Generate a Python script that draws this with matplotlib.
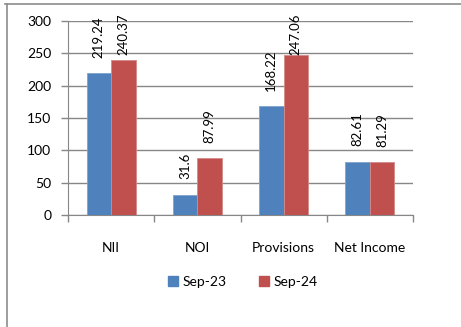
import matplotlib
matplotlib.use("Agg")
import matplotlib.pyplot as plt
from matplotlib.lines import Line2D
import numpy as np

categories = ["NII", "NOI", "Provisions", "Net Income"]
series_names = ["Sep-23", "Sep-24"]
sep23 = [219.24, 31.6, 168.22, 82.61]
sep24 = [240.37, 87.99, 247.06, 81.29]
y_ticks = [0, 50, 100, 150, 200, 250, 300]

plt.rcParams["font.family"] = ["Lato", "DejaVu Sans"]

W, H = 461, 327
fig = plt.figure(figsize=(W / 100, H / 100), dpi=100)
ax = fig.add_axes([68 / W, 1 - 215 / H, (413 - 68) / W, (215 - 21) / H])

blue = "#4F81BD"
red = "#C0504D"
grid_c = "#878787"

x = np.arange(len(categories))
bw = 0.285
ax.bar(x - bw / 2, sep23, bw, color=blue, edgecolor="#7EA3D0", linewidth=0.6, label=series_names[0], zorder=3)
ax.bar(x + bw / 2, sep24, bw, color=red, edgecolor="#D48A88", linewidth=0.6, label=series_names[1], zorder=3)

ax.set_xlim(-0.5, len(categories) - 0.5)
ax.set_ylim(0, 300)
ax.set_yticks(y_ticks)
ax.yaxis.grid(True, color=grid_c, linewidth=1.0, zorder=0)
ax.set_axisbelow(True)

# category separators on the x axis
ax.set_xticks(np.arange(len(categories) + 1) - 0.5)
ax.set_xticklabels([])
ax.tick_params(axis="x", direction="out", length=5, color=grid_c, width=1)
ax.tick_params(axis="y", direction="out", length=5, color=grid_c, width=1, labelsize=10, pad=7)
for i, c in enumerate(categories):
    ax.text(i, -51, c, ha="center", va="center", fontsize=10)

for s in ["top", "right"]:
    ax.spines[s].set_visible(False)
ax.spines["left"].set_color(grid_c)
ax.spines["bottom"].set_color(grid_c)

# value labels, rotated, held inside the plot area
cap = 247.4
for xs, vals in [(x - bw / 2, sep23), (x + bw / 2, sep24)]:
    for xi, v in zip(xs, vals):
        ax.text(xi, min(v + 23.5, cap), f"{v:g}", rotation=90, ha="center", va="bottom", fontsize=9.5)

# legend
handles = [plt.Rectangle((0, 0), 1, 1, color=blue), plt.Rectangle((0, 0), 1, 1, color=red)]
fig.legend(handles, series_names, loc="center", bbox_to_anchor=(243 / W, 1 - 282 / H), ncol=2,
           frameon=False, fontsize=10, handlelength=0.7, handleheight=0.7, columnspacing=2.3,
           handletextpad=0.35)

# outer frame
fig.add_artist(Line2D([5 / W, 1], [1 - 4 / H, 1 - 4 / H], color="#8C8C8C", linewidth=1.2, transform=fig.transFigure))
fig.add_artist(Line2D([7 / W, 7 / W], [0, 1 - 4 / H], color="#8C8C8C", linewidth=1.2, transform=fig.transFigure))

fig.savefig("out.png", dpi=100)
